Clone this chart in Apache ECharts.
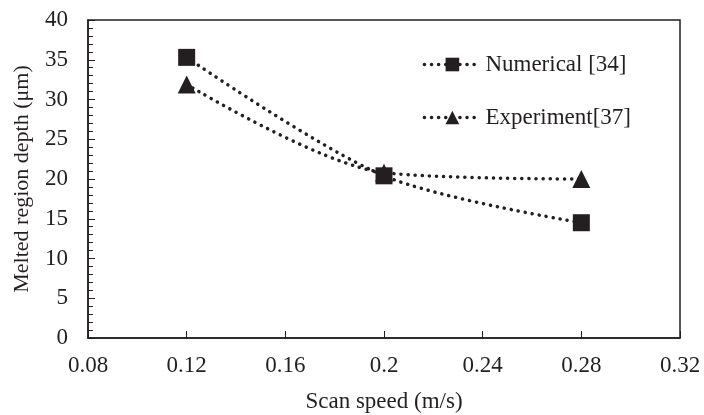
<!DOCTYPE html>
<html>
<head>
<meta charset="utf-8">
<script src="https://cdn.jsdelivr.net/npm/echarts@6/dist/echarts.min.js"></script>
<style>
  html, body { margin: 0; padding: 0; background: #fff; }
  #chart-container { width: 704px; height: 415px; }
</style>
</head>
<body>
<div id="chart-container"></div>
<script>
// data
var scanSpeed = [0.12, 0.2, 0.28];
var numerical = [35.3, 20.4, 14.5];
var experiment = [31.9, 20.8, 20.0];
var seriesNames = ['Numerical [34]', 'Experiment[37]'];

var ink = '#231f20';
var font = 'Liberation Serif';

var dom = document.getElementById('chart-container');
var myChart = echarts.init(dom, null, { renderer: 'canvas' });

function pairs(xs, ys) {
  return xs.map(function (x, i) { return [x, ys[i]]; });
}

var dotted = { color: ink, width: 3.5, type: [0.1, 7], cap: 'round' };

var option = {
  animation: false,
  backgroundColor: '#fff',
  grid: {
    left: 88, right: 24, top: 20, bottom: 77,
    outerBoundsMode: 'none', containLabel: false,
    show: true, borderColor: ink, borderWidth: 1.5, backgroundColor: 'transparent'
  },
  legend: {
    orient: 'vertical',
    right: 68,
    top: 48,
    itemGap: 30,
    itemWidth: 56,
    itemHeight: 17,
    lineStyle: { width: 3.5, type: [0.1, 7], cap: 'round', color: ink },
    textStyle: { fontFamily: font, fontSize: 23, color: ink },
    data: seriesNames
  },
  xAxis: {
    type: 'value',
    min: 0.08, max: 0.32, interval: 0.04,
    name: 'Scan speed (m/s)',
    nameLocation: 'middle',
    nameGap: 52,
    nameTextStyle: { fontFamily: font, fontSize: 23, color: ink },
    axisLine: { lineStyle: { color: ink, width: 1.5 } },
    axisTick: { inside: true, length: 7, lineStyle: { color: ink } },
    axisLabel: { fontFamily: font, fontSize: 23, color: ink, margin: 16,
      formatter: function (v) { return String(+v.toFixed(2)); } },
    splitLine: { show: false }
  },
  yAxis: {
    type: 'value',
    min: 0, max: 40, interval: 5,
    name: 'Melted region depth (\u03bcm)',
    nameLocation: 'middle',
    nameGap: 55,
    nameTextStyle: { fontFamily: font, fontSize: 22, color: ink },
    axisLine: { lineStyle: { color: ink, width: 1.5 } },
    axisTick: { inside: true, length: 7, lineStyle: { color: ink } },
    minorTick: { show: true, splitNumber: 5, length: 5, lineStyle: { color: ink } },
    axisLabel: { fontFamily: font, fontSize: 23, color: ink, margin: 20 },
    splitLine: { show: false }
  },
  series: [
    {
      name: seriesNames[0],
      type: 'line',
      smooth: 0.3,
      data: pairs(scanSpeed, numerical),
      symbol: 'rect',
      symbolSize: 17,
      color: ink,
      itemStyle: { color: ink },
      lineStyle: dotted
    },
    {
      name: seriesNames[1],
      type: 'line',
      smooth: 0.3,
      data: pairs(scanSpeed, experiment),
      symbol: 'triangle',
      symbolSize: 18,
      color: ink,
      itemStyle: { color: ink },
      lineStyle: dotted
    }
  ]
};

myChart.setOption(option);
window.addEventListener('resize', myChart.resize);
</script>
</body>
</html>
